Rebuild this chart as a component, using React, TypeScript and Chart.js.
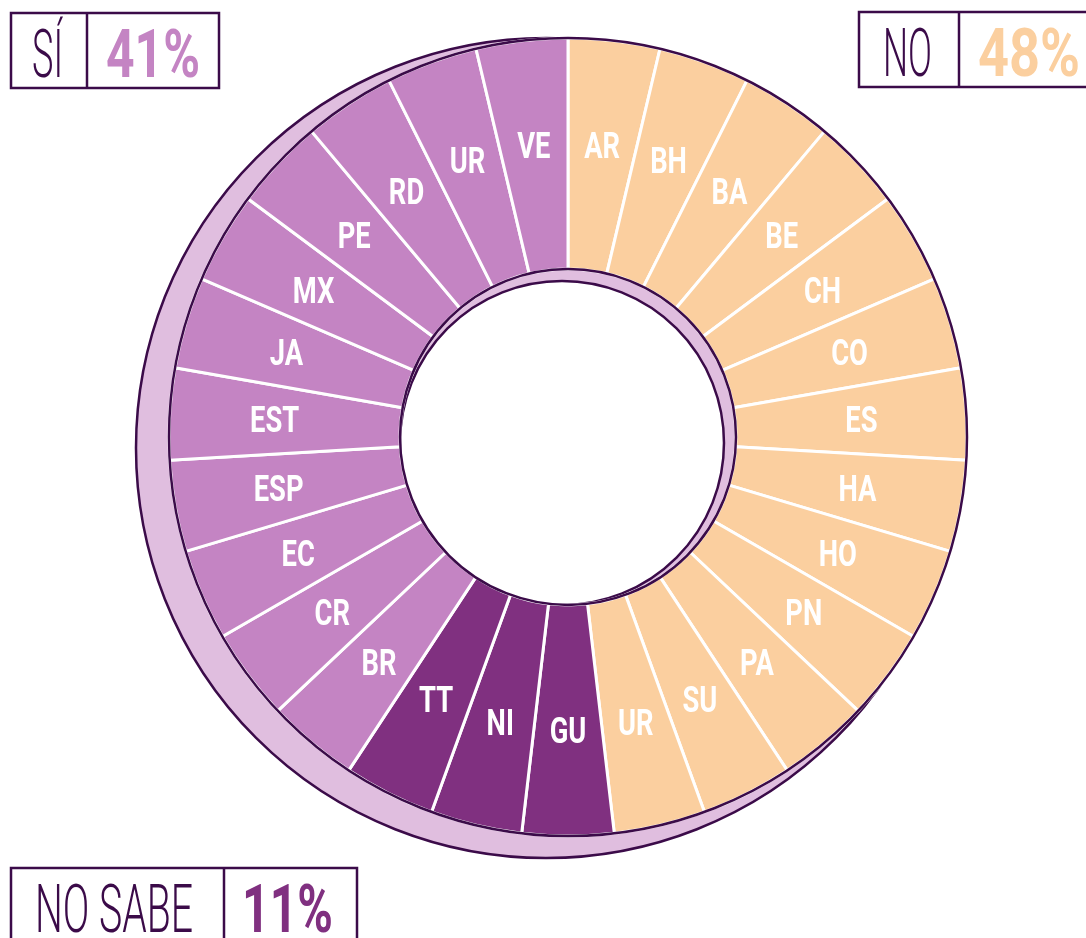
import { useEffect, useRef } from 'react';
import { Chart, registerables } from 'chart.js';

Chart.register(...registerables);

// ---- data ----
const countries = [
  'AR', 'BH', 'BA', 'BE', 'CH', 'CO', 'ES', 'HA', 'HO', 'PN', 'PA', 'SU', 'UR',
  'GU', 'NI', 'TT',
  'BR', 'CR', 'EC', 'ESP', 'EST', 'JA', 'MX', 'PE', 'RD', 'UR', 'VE',
];
const answers = [
  'NO', 'NO', 'NO', 'NO', 'NO', 'NO', 'NO', 'NO', 'NO', 'NO', 'NO', 'NO', 'NO',
  'NO SABE', 'NO SABE', 'NO SABE',
  'SÍ', 'SÍ', 'SÍ', 'SÍ', 'SÍ', 'SÍ', 'SÍ', 'SÍ', 'SÍ', 'SÍ', 'SÍ',
];
const weights = [1, 1, 1, 1, 1, 1, 1, 1, 1, 1, 1, 1, 1, 1, 1, 1, 1, 1, 1, 1, 1, 1, 1, 1, 1, 1, 1];
const summaryLabels = ['SÍ', 'NO', 'NO SABE'];
const summaryValues = ['41%', '48%', '11%'];

// ---- styles ----
const COLORS: Record<string, string> = {
  'SÍ': '#c484c3',
  'NO': '#fbcf9f',
  'NO SABE': '#803080',
};
const BACK = '#e0bedf';
const OUTLINE = '#3b0b49';

// summary boxes layout
const boxLayout = [
  { x: 11, y: 13, w: 208, h: 75, div: 87, lc: 47.5, lw: 31, vc: 153, vw: 94 },
  { x: 859, y: 12, w: 260, h: 75, div: 959, lc: 907.5, lw: 49, vc: 1029, vw: 102 },
  { x: 11, y: 868, w: 346, h: 90, div: 224, lc: 114, lw: 158, vc: 287.5, vw: 91 },
];

function fitText(ctx: CanvasRenderingContext2D, text: string, cx: number, baseline: number, width: number, font: string, color: string) {
  ctx.save();
  ctx.font = font;
  const m = ctx.measureText(text).width || 1;
  ctx.translate(cx, baseline);
  ctx.scale(width / m, 1);
  ctx.textAlign = 'center';
  ctx.textBaseline = 'alphabetic';
  ctx.fillStyle = color;
  ctx.fillText(text, 0, 0);
  ctx.restore();
}

const decoPlugin = {
  id: 'deco',
  beforeDatasetsDraw(chart: any) {
    const arc = chart.getDatasetMeta(0).data[0];
    if (!arc) return;
    const { x, y, outerRadius, innerRadius } = arc.getProps(['x', 'y', 'outerRadius', 'innerRadius'], true);
    const ctx: CanvasRenderingContext2D = chart.ctx;
    const ox = x - 22, oy = y + 11, oR = outerRadius + 11;
    const ix = x - 6, iy = y + 6, iR = innerRadius - 6;
    ctx.save();
    ctx.beginPath();
    ctx.arc(ox, oy, oR, 0, Math.PI * 2);
    ctx.moveTo(ix + iR, iy);
    ctx.arc(ix, iy, iR, 0, Math.PI * 2, true);
    ctx.fillStyle = BACK;
    ctx.fill('evenodd');
    ctx.lineWidth = 2.5;
    ctx.strokeStyle = OUTLINE;
    ctx.beginPath();
    ctx.arc(ox, oy, oR, 0, Math.PI * 2);
    ctx.stroke();
    ctx.beginPath();
    ctx.arc(ix, iy, iR, 0, Math.PI * 2);
    ctx.stroke();
    ctx.restore();
  },
  afterDatasetsDraw(chart: any) {
    const meta = chart.getDatasetMeta(0);
    const ctx: CanvasRenderingContext2D = chart.ctx;
    const first = meta.data[0];
    if (!first) return;
    const { x, y, outerRadius, innerRadius } = first.getProps(['x', 'y', 'outerRadius', 'innerRadius'], true);
    ctx.save();
    ctx.lineWidth = 2.5;
    ctx.strokeStyle = OUTLINE;
    ctx.beginPath();
    ctx.arc(x, y, outerRadius, 0, Math.PI * 2);
    ctx.stroke();
    ctx.beginPath();
    ctx.arc(x, y, innerRadius, 0, Math.PI * 2);
    ctx.stroke();
    ctx.restore();

    meta.data.forEach((el: any, i: number) => {
      const p = el.getProps(['x', 'y', 'startAngle', 'endAngle', 'innerRadius', 'outerRadius'], true);
      const mid = (p.startAngle + p.endAngle) / 2;
      const r = p.innerRadius + 0.545 * (p.outerRadius - p.innerRadius);
      const tx = p.x + Math.cos(mid) * r;
      const ty = p.y + Math.sin(mid) * r;
      ctx.save();
      ctx.font = 'bold 36px Roboto, "DejaVu Sans", sans-serif';
      ctx.translate(tx, ty + 12.5);
      ctx.scale(0.76, 1);
      ctx.textAlign = 'center';
      ctx.textBaseline = 'alphabetic';
      ctx.fillStyle = '#ffffff';
      ctx.fillText(chart.data.labels[i], 0, 0);
      ctx.restore();
    });
  },
  afterDraw(chart: any) {
    const ctx: CanvasRenderingContext2D = chart.ctx;
    boxLayout.forEach((b, i) => {
      ctx.save();
      ctx.lineWidth = 2.5;
      ctx.strokeStyle = OUTLINE;
      ctx.strokeRect(b.x, b.y, b.w, b.h);
      ctx.beginPath();
      ctx.moveTo(b.div, b.y);
      ctx.lineTo(b.div, b.y + b.h);
      ctx.stroke();
      ctx.restore();
      const baseline = b.y + 64;
      fitText(ctx, summaryLabels[i], b.lc, baseline, b.lw, '300 66px Roboto, "DejaVu Sans", sans-serif', OUTLINE);
      fitText(ctx, summaryValues[i], b.vc, baseline, b.vw, 'bold 66px Roboto, "DejaVu Sans", sans-serif', COLORS[summaryLabels[i]]);
    });
  },
};

export default function App() {
  const ref = useRef<HTMLCanvasElement | null>(null);
  useEffect(() => {
    if (!ref.current) return;
    const chart = new Chart(ref.current, {
      type: 'doughnut',
      data: {
        labels: countries,
        datasets: [
          {
            data: weights,
            backgroundColor: answers.map((a) => COLORS[a]),
            borderColor: '#ffffff',
            borderWidth: 3,
            hoverOffset: 0,
          },
        ],
      },
      options: {
        responsive: false,
        animation: false,
        radius: 399,
        cutout: '42.1%',
        layout: { padding: { left: 50, right: 0, top: 0, bottom: 64 } },
        plugins: { legend: { display: false }, tooltip: { enabled: false } },
        events: [],
      } as any,
      plugins: [decoPlugin],
    });
    return () => chart.destroy();
  }, []);
  return (
    <div style={{ position: 'absolute', left: 0, top: 0, width: 1086, height: 938, background: '#ffffff' }}>
      <canvas ref={ref} width={1086} height={938} style={{ width: 1086, height: 938 }} />
    </div>
  );
}
